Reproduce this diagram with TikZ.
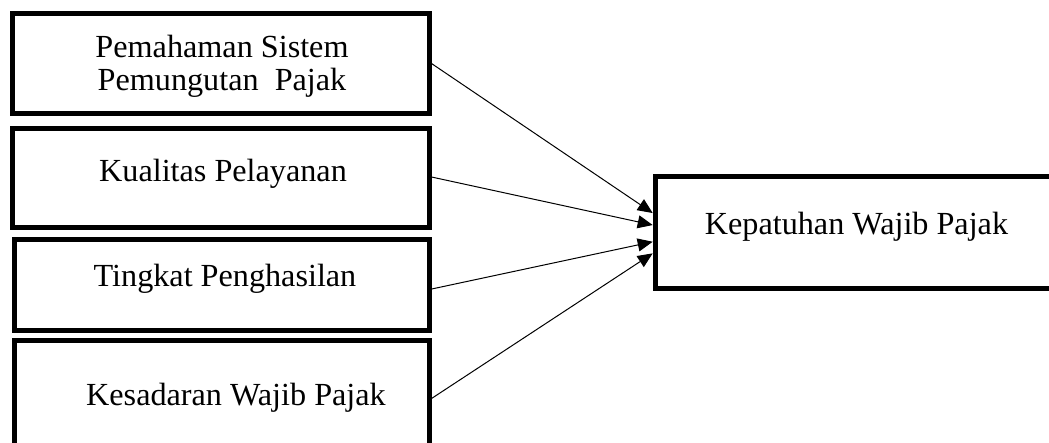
\documentclass[tikz,border=0pt]{standalone}
\usepackage{fontspec}
\setmainfont{Liberation Serif}
\usetikzlibrary{arrows.meta}
\begin{document}
\begin{tikzpicture}[x=1pt,y=-1pt,
  box/.style={draw=black, line width=5pt, rectangle, inner sep=0pt},
  lbl/.style={inner sep=0pt, anchor=base, font=\fontsize{32.2}{33.3}\selectfont},
  conn/.style={line width=1pt, -{Triangle[length=15pt,width=13pt]}}]
\useasboundingbox (0,0) rectangle (1049,443);
% left boxes
\node[box, minimum width=416.5pt, minimum height=100pt] (b1) at (220.75,63.5) {};
\node[box, minimum width=416.5pt, minimum height=99pt] (b2) at (220.75,178) {};
\node[box, minimum width=414.4pt, minimum height=90.4pt] (b3) at (222,285) {};
\node[box, minimum width=414.4pt, minimum height=117.2pt] (b4) at (222,399.4) {};
% right box
\node[box, minimum width=404.8pt, minimum height=112.5pt] (k) at (857.6,232.55) {};
% texts
\node[lbl] (t1) at (222,57.7) {\begin{tabular}[t]{@{}c@{}}Pemahaman Sistem\\Pemungutan\ \ Pajak\end{tabular}};
\node[lbl] (t2) at (223,182) {Kualitas Pelayanan};
\node[lbl] (t3) at (225,286.7) {Tingkat Penghasilan};
\node[lbl] (t4) at (236,405) {Kesadaran Wajib Pajak};
\node[lbl] (tk) at (856.5,235) {Kepatuhan Wajib Pajak};
% connectors
\draw[conn] (b1.east) -- ([yshift=19.5pt]k.west);
\draw[conn] ([yshift=1pt]b2.east) -- ([yshift=7.5pt]k.west);
\draw[conn] ([yshift=-4pt]b3.east) -- ([yshift=-9.2pt]k.west);
\draw[conn] ([yshift=1pt]b4.east) -- ([yshift=-20.8pt]k.west);
\end{tikzpicture}
\end{document}
